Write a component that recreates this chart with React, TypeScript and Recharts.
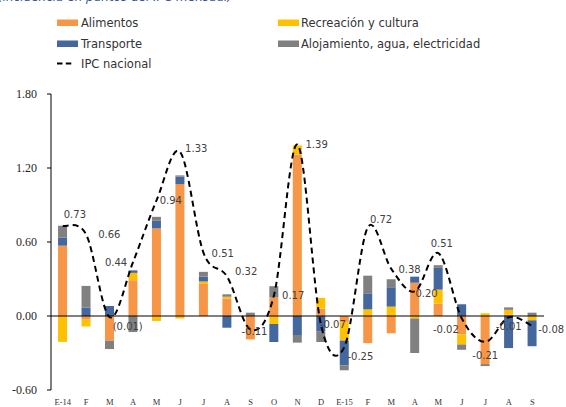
import { ComposedChart, Bar, Line, XAxis, YAxis, ReferenceLine, LabelList } from 'recharts';

const meses = ['E-14', 'F', 'M', 'A', 'M', 'J', 'J', 'A', 'S', 'O', 'N', 'D', 'E-15', 'F', 'M', 'A', 'M', 'J', 'J', 'A', 'S'];
const alimentos = [0.57, -0.03, -0.2, 0.29, 0.71, 1.07, 0.26, 0.14, -0.19, 0.15, 1.31, 0.06, -0.05, -0.22, -0.14, 0.27, 0.1, -0.15, -0.39, 0.01, 0];
const recreacion = [-0.21, -0.055, 0, 0.06, -0.04, -0.02, 0.02, 0.016, 0, -0.065, 0.073, 0.087, -0.15, 0.054, 0.076, -0.02, 0.114, -0.081, 0.022, 0.04, -0.035];
const transporte = [0.065, 0.068, 0.081, 0.02, 0.062, 0.06, 0.04, -0.095, 0, -0.146, -0.154, -0.127, -0.2, 0.13, 0.157, 0.049, 0.176, 0.095, 0, -0.26, -0.21];
const alojamiento = [0.097, 0.176, -0.068, -0.13, 0.032, 0.01, 0.038, 0.02, 0.027, 0.092, -0.062, -0.084, -0.04, 0.143, 0.065, -0.28, 0.022, -0.043, -0.016, 0.02, 0.027];
const ipc = [0.73, 0.66, -0.01, 0.44, 0.94, 1.33, 0.51, 0.32, -0.11, 0.17, 1.39, -0.07, -0.25, 0.72, 0.38, 0.2, 0.51, -0.02, -0.21, -0.01, -0.08];
const ipcEtiquetas = ['0.73', '0.66', '(0.01)', '0.44', '0.94', '1.33', '0.51', '0.32', '-0.11', '0.17', '1.39', '-0.07', '-0.25', '0.72', '0.38', '0.20', '0.51', '-0.02', '-0.21', '-0.01', '-0.08'];
const yTicks = [-0.6, 0, 0.6, 1.2, 1.8];

const data = meses.map((mes, i) => ({
  i,
  mes,
  alimentos: alimentos[i],
  recreacion: recreacion[i],
  transporte: transporte[i],
  alojamiento: alojamiento[i],
  ipc: ipc[i],
}));

// where each IPC label sits relative to its point: [dx, dy, anchor]
const etiquetaPos: [number, number, string][] = [
  [1, -11, 'start'], [12, 0, 'start'], [3, 9.5, 'start'], [-6, 1, 'end'], [3, 0, 'start'],
  [5, -3, 'start'], [8, 0, 'start'], [8, -5, 'start'], [4, 2, 'middle'], [8, 0, 'start'],
  [8, 0, 'start'], [-1, 0, 'start'], [3, 9.5, 'start'], [2, -7.5, 'start'], [7, 0, 'start'],
  [0.5, 2, 'start'], [3.5, -10, 'middle'], [-3, 11, 'end'], [0, 14, 'middle'], [0, 9, 'middle'],
  [6, 4, 'start'],
];

const NARANJA = '#F79646';
const AMARILLO = '#FFC000';
const AZUL = '#44679E';
const GRIS = '#808080';
const SERIF = '"Liberation Serif", "Times New Roman", serif';

// Excel-like smoothed line (Catmull-Rom)
function curvaSuave(ctx: any) {
  let pts: number[][] = [];
  return {
    areaStart() {},
    areaEnd() {},
    lineStart() { pts = []; },
    point(x: number, y: number) { pts.push([+x, +y]); },
    lineEnd() {
      if (!pts.length) return;
      ctx.moveTo(pts[0][0], pts[0][1]);
      for (let k = 0; k < pts.length - 1; k++) {
        const p0 = pts[k - 1] || pts[k];
        const p1 = pts[k];
        const p2 = pts[k + 1];
        const p3 = pts[k + 2] || p2;
        ctx.bezierCurveTo(
          p1[0] + (p2[0] - p0[0]) / 6, p1[1] + (p2[1] - p0[1]) / 6,
          p2[0] - (p3[0] - p1[0]) / 6, p2[1] - (p3[1] - p1[1]) / 6,
          p2[0], p2[1],
        );
      }
    },
  };
}

function EtiquetaIpc(props: any) {
  const { x, y, index } = props;
  const [dx, dy, anchor] = etiquetaPos[index];
  return (
    <text x={x + dx} y={y + dy} dy="0.35em" textAnchor={anchor} fontSize={10} fill="#404040" fontFamily="DejaVu Sans">
      {ipcEtiquetas[index]}
    </text>
  );
}

function TickX(props: any) {
  const { x, y, payload } = props;
  return (
    <text x={x} y={y + 6} textAnchor="middle" fontSize={8.5} fill="#333" style={{ fontFamily: SERIF }}>
      {meses[payload.value]}
    </text>
  );
}

function TickY(props: any) {
  const { x, y, payload } = props;
  return (
    <text x={x} y={y} dy="0.35em" textAnchor="end" fontSize={12} fill="#262626" style={{ fontFamily: SERIF }}>
      {payload.value.toFixed(2)}
    </text>
  );
}

function Leyenda() {
  const txt = { fontSize: 11.5, fill: '#333', fontFamily: 'DejaVu Sans' };
  return (
    <svg width={566} height={80} style={{ position: 'absolute', left: 0, top: 0 }}>
      <text x={-2} y={0.5} fontSize={12} fontStyle="italic" fill="#2F5597" fontFamily="DejaVu Sans">
        (incidencia en puntos del IPC mensual)
      </text>
      <rect x={57} y={19.5} width={21} height={6.5} fill={NARANJA} />
      <text x={81} y={27} {...txt}>Alimentos</text>
      <rect x={278} y={19.5} width={21} height={6.5} fill={AMARILLO} />
      <text x={301} y={27} {...txt}>Recreación y cultura</text>
      <rect x={57} y={40.5} width={21} height={6.5} fill={AZUL} />
      <text x={81} y={47.5} {...txt}>Transporte</text>
      <rect x={278} y={40.5} width={21} height={6.5} fill={GRIS} />
      <text x={301} y={47.5} {...txt}>Alojamiento, agua, electricidad</text>
      <line x1={57} y1={63.5} x2={73} y2={63.5} stroke="#000" strokeWidth={2.2} strokeDasharray="5.5 3.3" />
      <text x={81} y={68} {...txt}>IPC nacional</text>
    </svg>
  );
}

export default function App() {
  return (
    <div style={{ position: 'absolute', left: 0, top: 0, width: 566, height: 407, background: '#fff' }}>
      <ComposedChart width={566} height={407} data={data} stackOffset="sign" barCategoryGap="30%"
        margin={{ top: 94, right: 22, bottom: 0, left: 0 }}>
        <XAxis dataKey="i" height={17} axisLine={false} tickLine={false} tickSize={0} tickMargin={9}
          interval={0} tick={<TickX />} />
        <YAxis width={51} domain={[-0.6, 1.8]} ticks={yTicks}
          axisLine={{ stroke: '#000' }} tickLine={{ stroke: '#000' }} tickSize={4} tickMargin={10}
          tick={<TickY />} />
        <ReferenceLine y={0} stroke="#000" strokeWidth={1} />
        <Bar dataKey="alimentos" stackId="a" fill={NARANJA} isAnimationActive={false} />
        <Bar dataKey="recreacion" stackId="a" fill={AMARILLO} isAnimationActive={false} />
        <Bar dataKey="transporte" stackId="a" fill={AZUL} isAnimationActive={false} />
        <Bar dataKey="alojamiento" stackId="a" fill={GRIS} isAnimationActive={false} />
        <Line dataKey="ipc" type={curvaSuave as any} stroke="#000" strokeWidth={2} strokeDasharray="6 4"
          dot={false} activeDot={false} isAnimationActive={false}>
          <LabelList dataKey="ipc" content={EtiquetaIpc} />
        </Line>
      </ComposedChart>
      <Leyenda />
    </div>
  );
}
